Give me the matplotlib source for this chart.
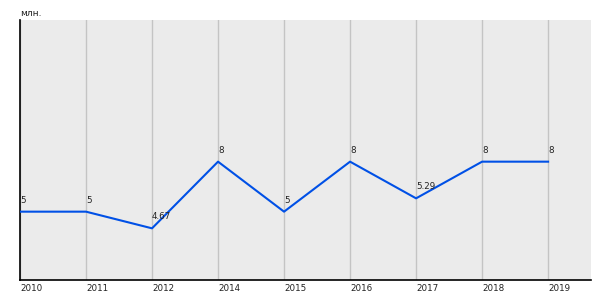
import matplotlib.pyplot as plt

# Categories and values (plotted heights, labels as shown)
years = ['2010', '2011', '2012', '2014', '2015', '2016', '2017', '2018', '2019']
values = [5, 5, 4.0, 8, 5, 8, 5.8, 8, 8]
value_labels = ['5', '5', '4.67', '8', '5', '8', '5.29', '8', '8']
unit = 'млн.'

fig = plt.figure(figsize=(6, 3), dpi=100)
ax = fig.add_axes([20 / 600, 20 / 300, 571 / 600, 260 / 300])
ax.set_facecolor('#ebebeb')

x = list(range(len(years)))
ax.plot(x, values, color='#0050e6', linewidth=1.5, zorder=3)

for xi, v, lab in zip(x, values, value_labels):
    ax.annotate(lab, (xi, v), xytext=(0, 5), textcoords='offset points',
                ha='left', va='bottom', fontsize=6.3, color='#222222')

ax.set_xlim(0, 8.65)
ax.set_ylim(0.9, 16.5)
ax.set_xticks(x)
ax.set_xticklabels(years, ha='left', fontsize=6.3, color='#222222')
ax.set_yticks([])
ax.tick_params(axis='x', length=0, pad=3)
ax.grid(axis='x', color='#c4c4c4', linewidth=1)
ax.set_axisbelow(True)

for s in ['top', 'right']:
    ax.spines[s].set_visible(False)
ax.spines['left'].set_color('black')
ax.spines['bottom'].set_color('black')
ax.spines['left'].set_linewidth(1.2)
ax.spines['bottom'].set_linewidth(1.2)

fig.text(20 / 600, 1 - 13 / 300, unit, fontsize=6.5, color='#222222', va='center', ha='left')

fig.savefig('out.png', dpi=100)
